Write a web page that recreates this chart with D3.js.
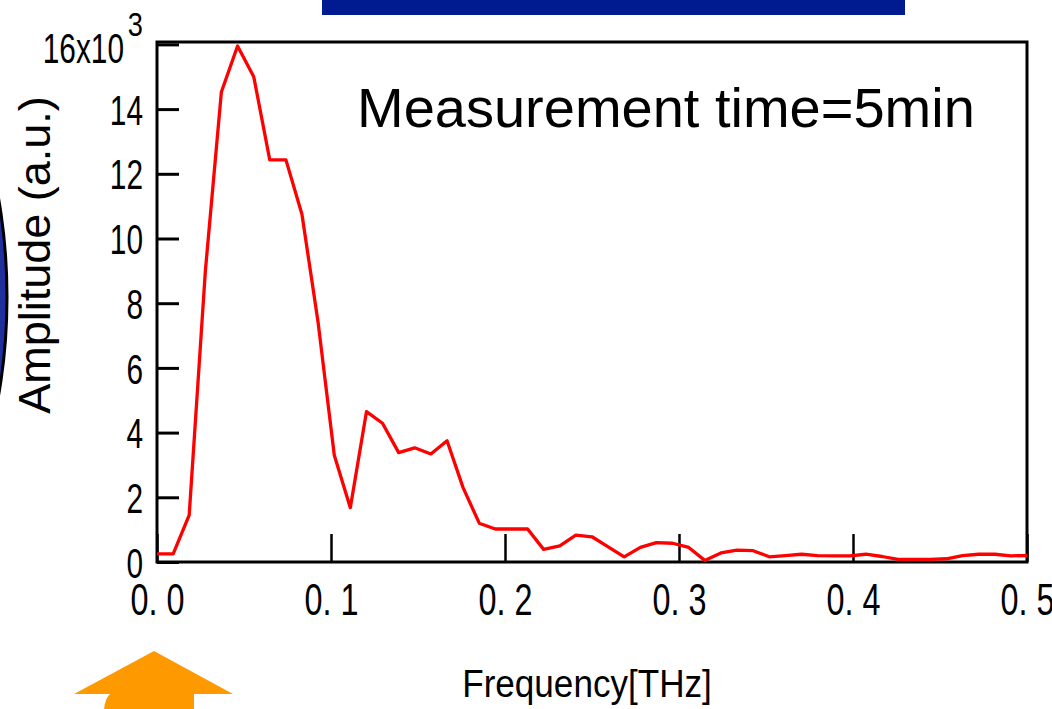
<!DOCTYPE html>
<html><head><meta charset="utf-8">
<script src="https://cdn.jsdelivr.net/npm/d3@7"></script>
<style>html,body{margin:0;padding:0;background:#fff;overflow:hidden}</style>
</head><body>
<svg id="chart" width="1052" height="709"></svg>
<script>
// ---- data ----
const freqTHz = [0.0000,0.0093,0.0185,0.0278,0.0370,0.0463,0.0556,0.0648,0.0741,0.0833,
  0.0926,0.1019,0.1111,0.1204,0.1296,0.1389,0.1481,0.1574,0.1667,0.1759,
  0.1852,0.1944,0.2037,0.2130,0.2222,0.2315,0.2407,0.2500,0.2593,0.2685,
  0.2778,0.2870,0.2963,0.3056,0.3148,0.3241,0.3333,0.3426,0.3519,0.3611,
  0.3704,0.3796,0.3889,0.3981,0.4074,0.4167,0.4259,0.4352,0.4444,0.4537,
  0.4630,0.4722,0.4815,0.4907,0.5000];
const amplitudeK = [0.25,0.25,1.45,9.0,14.53,15.95,15.0,12.43,12.43,10.75,
  7.4,3.3,1.68,4.65,4.29,3.38,3.53,3.34,3.75,2.3,
  1.2,1.02,1.02,1.02,0.39,0.5,0.83,0.78,0.47,0.16,
  0.45,0.6,0.58,0.45,0.05,0.28,0.37,0.35,0.16,0.2,
  0.24,0.2,0.19,0.19,0.24,0.17,0.08,0.08,0.08,0.1,
  0.2,0.24,0.24,0.19,0.2];
const xTicks = [0,0.1,0.2,0.3,0.4,0.5];
const xTickLabels = ["0. 0","0. 1","0. 2","0. 3","0. 4","0. 5"];
const yTicks = [0,2,4,6,8,10,12,14,16];
const yTickLabels = ["0","2","4","6","8","10","12","14","16x10"];
const xTitle = "Frequency[THz]";
const yTitle = "Amplitude (a.u.)";
const note = "Measurement time=5min";

// ---- drawing ----
const svg = d3.select("#chart");
const L=157,R=1027,T=42,B=562;
const x = d3.scaleLinear().domain([0,0.5]).range([L,R]);
const y = d3.scaleLinear().domain([0,16.074]).range([B,T]);
const tickFont = "'Liberation Sans', Arial, sans-serif";

// decorations: blue bar, left blue shape, orange arrow
svg.append("rect").attr("x",322).attr("y",0).attr("width",583).attr("height",15).attr("fill","#001a8f");
svg.append("ellipse").attr("cx",-80).attr("cy",297).attr("rx",87).attr("ry",229)
  .attr("fill","#1f2f9c").attr("stroke","#000").attr("stroke-width",3);
svg.append("path")
  .attr("d","M154,651 L233,694 L194,694 L194,712 L104,712 Q104,700 110,694 L74,694 Z")
  .attr("fill","#ff9900");

// y axis (inner ticks)
const gy = svg.append("g").attr("transform",`translate(${L},0)`)
  .call(d3.axisLeft(y).tickValues(yTicks).tickSize(-22).tickPadding(14)
    .tickFormat((d,i)=>yTickLabels[i]));
gy.select(".domain").remove();
gy.selectAll(".tick line").attr("stroke","#000").attr("stroke-width",3);
gy.selectAll(".tick text")
  .attr("font-family",tickFont).attr("font-size",42).attr("fill","#000")
  .attr("x",-14/0.71).attr("dy","0.36em")
  .attr("transform","scale(0.71,1)");
gy.selectAll(".tick text").filter(d=>d===16).each(function(){
  const t=d3.select(this);
  t.attr("x",-(14+19)/0.71);
  t.attr("dy","0.42em");
  svg.append("text").attr("x",0).attr("y",0)
    .attr("transform",`translate(${L-14},${y(16)-8}) scale(0.8,1)`)
    .attr("text-anchor","end").attr("font-family",tickFont).attr("font-size",34)
    .attr("fill","#000").text("3");
});

// x axis (inner ticks)
const gx = svg.append("g").attr("transform",`translate(0,${B})`)
  .call(d3.axisBottom(x).tickValues(xTicks).tickSize(-28).tickPadding(10)
    .tickFormat((d,i)=>xTickLabels[i]));
gx.select(".domain").remove();
gx.selectAll(".tick line").attr("stroke","#000").attr("stroke-width",2.5);
gx.selectAll(".tick text")
  .attr("font-family",tickFont).attr("font-size",44).attr("fill","#000")
  .attr("y",53).attr("dy",0).attr("transform","scale(0.736,1)")
  .style("white-space","pre").attr("xml:space","preserve");

// frame
svg.append("rect").attr("x",L).attr("y",T).attr("width",R-L).attr("height",B-T)
  .attr("fill","none").attr("stroke","#000").attr("stroke-width",3);

// data line
const pts = freqTHz.map((f,i)=>[f,amplitudeK[i]]);
svg.append("path").datum(pts)
  .attr("d",d3.line().x(d=>x(d[0])).y(d=>y(d[1])))
  .attr("fill","none").attr("stroke","#ff0000").attr("stroke-width",3.3)
  .attr("stroke-linejoin","round");

// titles
svg.append("text").attr("transform",`translate(587,697) scale(0.9,1)`)
  .attr("text-anchor","middle").attr("font-family",tickFont).attr("font-size",39)
  .attr("fill","#000").text(xTitle);
svg.append("text").attr("transform",`translate(50,255) rotate(-90)`)
  .attr("text-anchor","middle").attr("font-family","'Liberation Sans', Arial, sans-serif")
  .attr("font-size",45).attr("fill","#000").text(yTitle);
svg.append("text").attr("x",357).attr("y",127)
  .attr("font-family","'Liberation Sans', Arial, sans-serif").attr("font-size",56)
  .attr("fill","#000").text(note);
</script>
</body></html>
